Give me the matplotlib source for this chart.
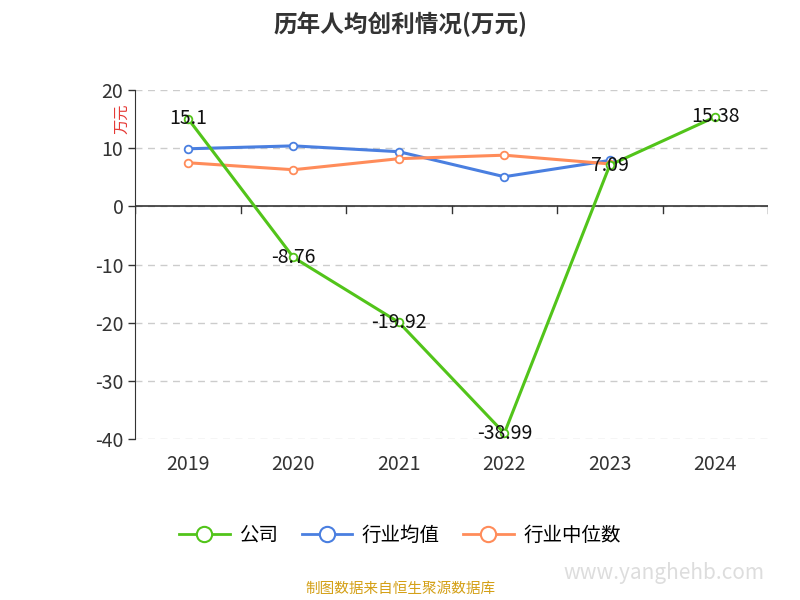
import matplotlib.pyplot as plt
from matplotlib.lines import Line2D

plt.rcParams['font.family'] = ['Noto Sans CJK SC', 'Noto Sans CJK JP', 'Noto Sans CJK TC',
                               'Noto Sans CJK KR', 'DejaVu Sans']
plt.rcParams['axes.unicode_minus'] = False

years = ['2019', '2020', '2021', '2022', '2023', '2024']
company = [15.1, -8.76, -19.92, -38.99, 7.09, 15.38]
industry_mean = [9.9, 10.4, 9.4, 5.1, 7.9]
industry_median = [7.5, 6.3, 8.2, 8.8, 7.3]

GREEN = '#52c41a'
BLUE = '#4a7fe0'
ORANGE = '#ff8c5a'

fig = plt.figure(figsize=(8, 6), dpi=100)
ax = fig.add_axes([0.169, 0.268, 0.791, 0.582])

x = list(range(len(years)))
ax.plot(x[:5], industry_mean, color=BLUE, lw=2.2, marker='o', ms=5.5,
        mfc='white', mec=BLUE, mew=1.3, zorder=3)
ax.plot(x[:5], industry_median, color=ORANGE, lw=2.2, marker='o', ms=5.5,
        mfc='white', mec=ORANGE, mew=1.3, zorder=3)
ax.plot(x, company, color=GREEN, lw=2.2, marker='o', ms=5.5,
        mfc='white', mec=GREEN, mew=1.3, zorder=4)
for xi, v in zip(x, company):
    ax.text(xi, v, f'{v:g}', ha='center', va='center', fontsize=14,
            color='#111111', zorder=5)

ax.set_xlim(-0.5, 5.5)
ax.set_ylim(-40, 20)
ax.set_yticks(range(-40, 21, 10))
ax.tick_params(axis='y', labelsize=14, colors='#333333', length=5, width=1)
ax.yaxis.grid(True, linestyle=(0, (5, 4)), color='#cccccc', lw=1)
for s in ['top', 'right', 'bottom']:
    ax.spines[s].set_visible(False)
ax.spines['left'].set_color('#333333')

# x-axis line at zero with ticks between categories
ax.axhline(0, color='#333333', lw=1.2, zorder=2)
ax.set_xticks([])
for b in [i - 0.5 for i in range(7)]:
    ax.plot([b, b], [0, -1.2], color='#333333', lw=1, zorder=2)
for xi, y in zip(x, years):
    ax.text(xi, -42.5, y, ha='center', va='top', fontsize=14, color='#333333')

ax.text(-0.63, 15, '万元', rotation=90, ha='center', va='center',
        fontsize=11, color='#e53935', transform=ax.transData)

fig.text(0.5, 0.96, '历年人均创利情况(万元)', ha='center', va='center',
         fontsize=17, fontweight='bold', color='#333333')

handles = [Line2D([], [], color=c, lw=2, marker='o', ms=11, mfc='white', mec=c, mew=1.5)
           for c in (GREEN, BLUE, ORANGE)]
fig.legend(handles, ['公司', '行业均值', '行业中位数'], loc='center',
           bbox_to_anchor=(0.5, 0.107), ncol=3, frameon=False, fontsize=14,
           handlelength=2.6, columnspacing=1.2, handletextpad=0.5)

fig.text(0.5, 0.018, '制图数据来自恒生聚源数据库', ha='center', va='center',
         fontsize=10.5, color='#d4a017')
fig.text(0.83, 0.045, 'www.yanghehb.com', ha='center', va='center',
         fontsize=15, color='#dddddd')

fig.savefig('out.png')
